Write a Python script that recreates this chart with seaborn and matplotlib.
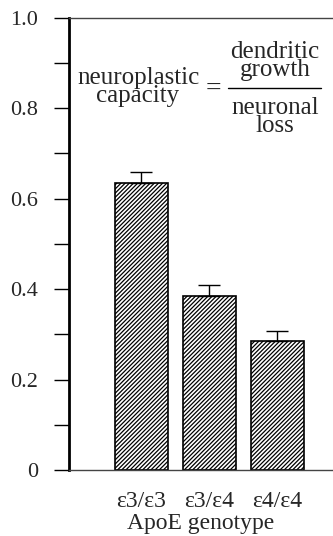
import matplotlib
matplotlib.use("Agg")
import matplotlib.pyplot as plt
import seaborn as sns
import pandas as pd
from matplotlib.lines import Line2D

genotypes = ["ε3/ε3", "ε3/ε4", "ε4/ε4"]
capacity = [0.634, 0.384, 0.285]
sem = [0.024, 0.024, 0.022]
y_major = [0, 0.2, 0.4, 0.6, 0.8, 1.0]
y_labels = ["0", "0.2", "0.4", "0.6", "0.8", "1.0"]
y_minor = [0.1, 0.3, 0.5, 0.7, 0.9]

sns.set_theme(style="white")
plt.rcParams["font.family"] = ["Liberation Serif", "DejaVu Serif"]
plt.rcParams["hatch.color"] = "#333333"
plt.rcParams["hatch.linewidth"] = 0.9

df = pd.DataFrame({"genotype": genotypes, "capacity": capacity})

fig = plt.figure(figsize=(3.33, 5.36), dpi=100)
ax = fig.add_axes([0.207, 0.123, 0.793, 0.844])

sns.barplot(data=df, x="genotype", y="capacity", ax=ax, color="white",
            edgecolor="black", linewidth=1.2, width=0.78, errorbar=None,
            saturation=1)
for p in ax.patches:
    p.set_hatch("////////")
    p.set_facecolor("white")

ax.errorbar(range(len(genotypes)), capacity, yerr=[[0] * len(sem), sem],
            fmt="none", ecolor="black", elinewidth=1.0, capsize=8, capthick=1.0)

ax.set_xlim(-1.066, 2.82)
ax.set_ylim(0, 1.0)
ax.set_yticks(y_major)
ax.set_yticklabels(y_labels)
ax.set_yticks(y_minor, minor=True)
ax.tick_params(axis="y", which="both", direction="out", length=11, width=1.0,
               color="black", labelsize=16, pad=11, left=True)
ax.tick_params(axis="x", length=0, labelsize=17, pad=15)
ax.set_xlabel("ApoE genotype", fontsize=17, labelpad=1)
ax.set_ylabel("")

for s in ["top", "bottom"]:
    ax.spines[s].set_visible(True)
    ax.spines[s].set_color("#444444")
    ax.spines[s].set_linewidth(1.0)
ax.spines["right"].set_visible(False)
ax.spines["left"].set_color("black")
ax.spines["left"].set_linewidth(2.0)

# equation annotation
fs = 18
fig.text(138 / 333, 1 - 87 / 536, "neuroplastic\ncapacity", ha="center", va="center",
         fontsize=fs, linespacing=0.8)
fig.text(213 / 333, 1 - 89 / 536, "=", ha="center", va="center", fontsize=fs + 2)
fig.text(275 / 333, 1 - 61 / 536, "dendritic\ngrowth", ha="center", va="center",
         fontsize=fs, linespacing=0.8)
fig.text(275 / 333, 1 - 117 / 536, "neuronal\nloss", ha="center", va="center",
         fontsize=fs, linespacing=0.8)
fig.add_artist(Line2D([228 / 333, 321 / 333], [1 - 88 / 536, 1 - 88 / 536],
                      color="black", linewidth=1.0, transform=fig.transFigure))

fig.savefig("out.png", dpi=100)
